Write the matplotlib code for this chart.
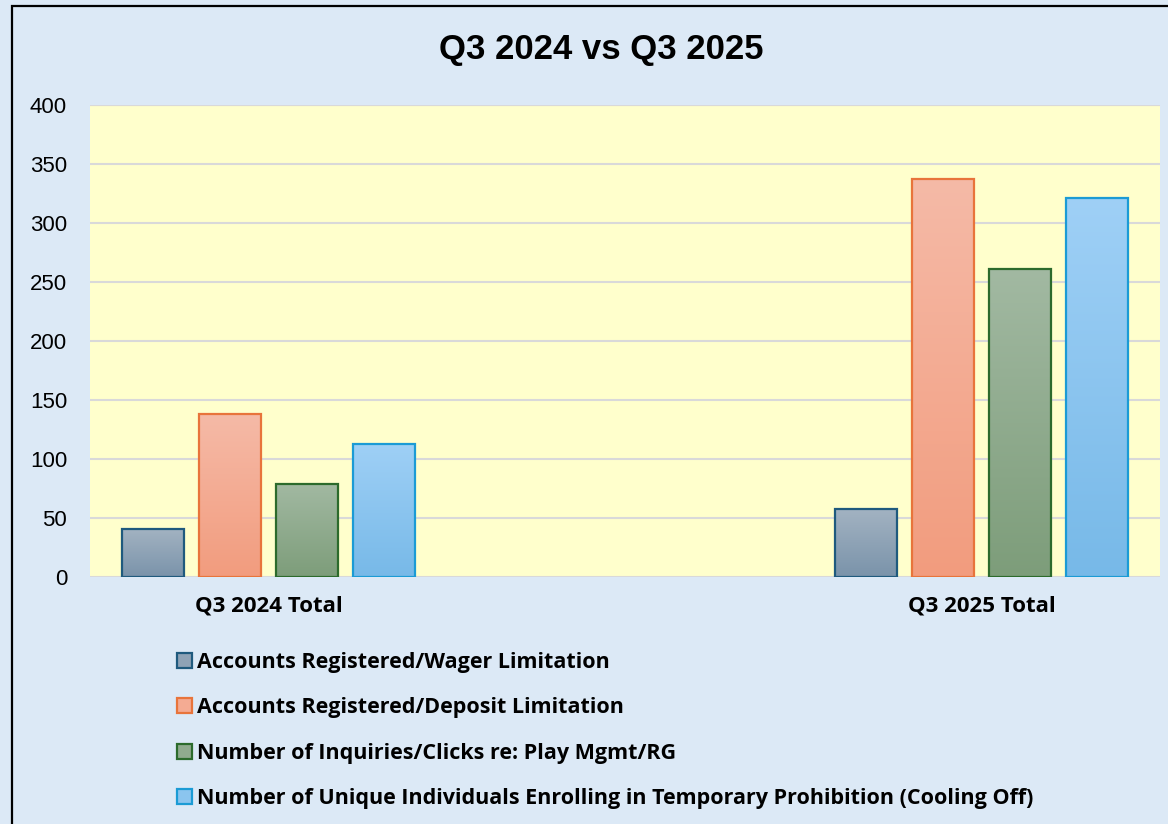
import numpy as np
import matplotlib.pyplot as plt
from matplotlib.patches import Patch, Rectangle
from matplotlib.colors import LinearSegmentedColormap

categories = ['Q3 2024 Total', 'Q3 2025 Total']
series_names = [
    'Accounts Registered/Wager Limitation',
    'Accounts Registered/Deposit Limitation',
    'Number of Inquiries/Clicks re: Play Mgmt/RG',
    'Number of Unique Individuals Enrolling in Temporary Prohibition (Cooling Off)',
]
wager = [41, 58]
deposit = [138, 337]
inquiries = [79, 261]
cooling_off = [113, 321]

# (top colour, bottom colour, edge colour)
styles = [
    ('#A3B3C2', '#7A93AA', '#1F5A7E'),
    ('#F5BAA7', '#F29C7E', '#E8743B'),
    ('#A2B9A2', '#7D9D7A', '#2C6B2C'),
    ('#9FD0F6', '#77B9E8', '#1B9BD5'),
]

fig = plt.figure(figsize=(11.68, 8.24), dpi=100)
fig.patch.set_facecolor('#DCE9F6')

# outer border (left and top visible)
fig.add_artist(Rectangle((12 / 1168, -0.1), 1.2, 1 - 6 / 824 + 0.1,
                         transform=fig.transFigure, fill=False,
                         edgecolor='black', linewidth=1.6))

ax = fig.add_axes([90 / 1168, 1 - 577 / 824, 1070 / 1168, 472 / 824])
ax.set_facecolor('#FFFFCC')
for s in ax.spines.values():
    s.set_visible(False)

ax.set_ylim(0, 400)
ax.set_xlim(-0.251, 1.25)
ax.set_yticks(range(0, 401, 50))
ax.yaxis.grid(True, color='#D9D9D9', linewidth=1.5)
ax.axhline(400, color='#D9D9D9', linewidth=1.5, zorder=1)
ax.set_axisbelow(True)
ax.tick_params(axis='y', length=0, pad=16.5, labelsize=16)
ax.tick_params(axis='x', length=0, pad=13)
for lbl in ax.get_yticklabels():
    lbl.set_fontfamily('Liberation Sans')

x = np.arange(len(categories))
width = 0.087
step = 0.108
all_values = [wager, deposit, inquiries, cooling_off]
grad = np.linspace(1, 0, 256).reshape(-1, 1)

handles = []
for i, (vals, (top, bottom, edge)) in enumerate(zip(all_values, styles)):
    pos = x + (i - 1.5) * step
    bars = ax.bar(pos, vals, width, facecolor='none', edgecolor=edge,
                  linewidth=1.6, zorder=3)
    cmap = LinearSegmentedColormap.from_list('g%d' % i, [bottom, top])
    for b in bars:
        bx, bw, bh = b.get_x(), b.get_width(), b.get_height()
        im = ax.imshow(grad, extent=[bx, bx + bw, 0, bh], cmap=cmap,
                       aspect='auto', origin='upper', zorder=2)
        im.set_clip_path(b)
    handles.append(Patch(facecolor=cmap(0.5), edgecolor=edge, linewidth=1.6,
                         label=series_names[i]))

ax.set_xlim(-0.251, 1.25)
ax.set_ylim(0, 400)
ax.set_xticks(x)
ax.set_xticklabels(categories, fontsize=16, fontweight='bold',
                   fontfamily='Open Sans')

fig.text(601 / 1168, 1 - 50 / 824, 'Q3 2024 vs Q3 2025', ha='center',
         va='center', fontsize=25, fontweight='bold',
         fontfamily='Liberation Sans')

leg = fig.legend(handles=handles, loc='upper left',
                 bbox_to_anchor=(158 / 1168, 1 - 633 / 824),
                 frameon=False, handlelength=0.7, handleheight=0.7,
                 handletextpad=0.2, labelspacing=1.12,
                 prop={'family': 'Open Sans', 'weight': 'bold', 'size': 15.5})

fig.savefig('out.png', dpi=100, facecolor=fig.get_facecolor())
